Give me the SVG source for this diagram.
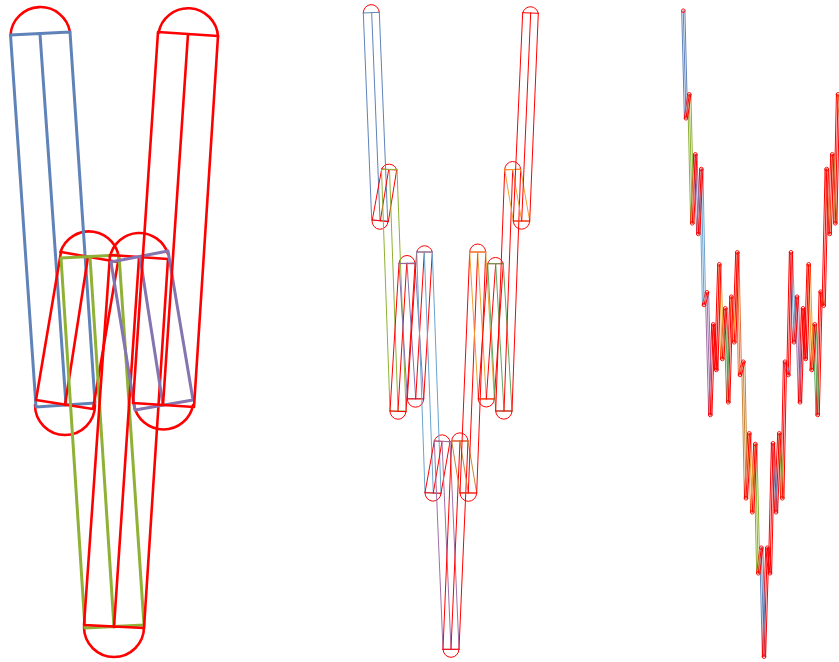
<svg xmlns="http://www.w3.org/2000/svg" xmlns:xlink="http://www.w3.org/1999/xlink" width="839" height="662" viewBox="0 0 839 662">
<style>
path,line{fill:none;stroke-linecap:round;stroke-linejoin:round}
.r{stroke:#ff0000}.b{stroke:#5f83b9}.g{stroke:#8fb136}.p{stroke:#8574b0}.l{stroke:#6aa3ce}.m{stroke:#a06fa8}.o{stroke:#f0a030}.n{stroke:#5ba85b}.t{stroke:#e8703a}.w{stroke:#c8863a}
#left path{stroke-width:3}
#left path.r{stroke-width:2.6}
#mid path{stroke-width:1}
#right line,#right path{stroke-width:1.3}
</style>
<defs>
<marker id="tip" markerUnits="userSpaceOnUse" markerWidth="8" markerHeight="8" refX="4" refY="4" viewBox="0 0 8 8"><circle cx="4" cy="4" r="1.8" fill="none" stroke="#ff0000" stroke-width="0.9"/></marker>
<g id="band">
<line class="b" x1="683.3" y1="10.7" x2="686" y2="118.3"/>
<line class="g" x1="689.3" y1="94.3" x2="692.3" y2="223.3"/>
<line class="p" x1="695.3" y1="154.3" x2="698.3" y2="234"/>
<line class="l" x1="701.3" y1="169" x2="704" y2="305"/>
<line class="m" x1="707" y1="292.3" x2="710.3" y2="415"/>
<line class="r" x1="713.3" y1="324.3" x2="716.3" y2="370"/>
<line class="o" x1="719.3" y1="264.3" x2="722.3" y2="359"/>
<line class="n" x1="725.3" y1="308.3" x2="728.3" y2="402.3"/>
<line class="o" x1="731.3" y1="296.7" x2="734.3" y2="342.3"/>
<line class="t" x1="737.3" y1="252.3" x2="740" y2="375"/>
<line class="w" x1="743.3" y1="361.7" x2="746" y2="498.3"/>
<line class="o" x1="749.3" y1="433.3" x2="752.3" y2="512.3"/>
<line class="g" x1="755.3" y1="444" x2="758.3" y2="573.3"/>
<line class="b" x1="761.3" y1="547.7" x2="764" y2="656.7"/>
<line class="r" x1="767.3" y1="547.7" x2="770" y2="573.3"/>
<line class="b" x1="773" y1="443.3" x2="776" y2="512.3"/>
<line class="g" x1="779.3" y1="433.3" x2="782.3" y2="498.3"/>
<line class="p" x1="785" y1="361.7" x2="788.3" y2="375"/>
<line class="l" x1="791" y1="252.3" x2="794" y2="342.3"/>
<line class="m" x1="797" y1="296.7" x2="800" y2="402.3"/>
<line class="r" x1="803" y1="308.3" x2="805.7" y2="359"/>
<line class="o" x1="808.7" y1="264.3" x2="811.7" y2="370"/>
<line class="n" x1="814.7" y1="324.3" x2="817.7" y2="415"/>
<line class="t" x1="820.7" y1="291.7" x2="823.7" y2="305.7"/>
<line class="t" x1="826.7" y1="169" x2="829.7" y2="234"/>
<line class="w" x1="832.3" y1="154.3" x2="835.3" y2="223.3"/>
<line class="o" x1="838" y1="94.3" x2="841" y2="118"/>
<path class="r" d="M686 118.3L689.3 94.3M692.3 223.3L695.3 154.3M698.3 234L701.3 169M704 305L707 292.3M710.3 415L713.3 324.3M716.3 370L719.3 264.3M722.3 359L725.3 308.3M728.3 402.3L731.3 296.7M734.3 342.3L737.3 252.3M740 375L743.3 361.7M746 498.3L749.3 433.3M752.3 512.3L755.3 444M758.3 573.3L761.3 547.7M764 656.7L767.3 547.7M770 573.3L773 443.3M776 512.3L779.3 433.3M782.3 498.3L785 361.7M788.3 375L791 252.3M794 342.3L797 296.7M800 402.3L803 308.3M805.7 359L808.7 264.3M811.7 370L814.7 324.3M817.7 415L820.7 291.7M823.7 305.7L826.7 169M829.7 234L832.3 154.3M835.3 223.3L838 94.3"/>
</g>
</defs>

<g id="left">
<path class="r" d="M10.5 35A30 30 0 0 1 70 32M158.5 33A30 30 0 0 1 218 36.500M60.500 252A30 30 0 0 1 119 261M110 257A30 30 0 0 1 168 254M35 405A30 30 0 0 0 95 405M134 405A30 30 0 0 0 193 405M84 627A30 30 0 0 0 144 627"/>
<path class="b" d="M10.5 35L70 32M10.5 35L36 407M40 34L66 405M70 32L95 403M36 407L95 403"/>
<path class="r" d="M61 252L118 262M61 252L36 400M88 257L65 405M118 262L93 409M36 400L93 409"/>
<path class="g" d="M61 258L119 255M61 258L85 628M90 257L114 627M119 255L144 625M85 628L144 625"/>
<path class="r" d="M110 255L168 259M84 625L110 255M114 627L139 258M144 628L168 259M84 625L144 628"/>
<path class="p" d="M111 262L168 251M111 262L135 410M140 257L163 405M168 251L193 400M135 410L193 400"/>
<path class="r" d="M158 32L218 36M158 32L133 403M188 34L163 405M218 36L194 407M133 403L194 407"/>
</g>

<g id="mid">
<path class="r" d="M363.3 13A8 8 0 0 1 379.3 12.3M381.7 169A8 8 0 0 1 396.7 170M399 263.5A8 8 0 0 1 415 263.5M416.7 252A8 8 0 0 1 432.3 252M434.3 441A8 8 0 0 1 450 441.7M451.7 441A8 8 0 0 1 468 441M469.7 252A8 8 0 0 1 485.7 252M487.7 263.7A8 8 0 0 1 503.3 263.7M504.7 169.7A8 8 0 0 1 520.7 169.3M522.7 12.7A8 8 0 0 1 538.3 13.3"/>
<path class="r" d="M372 221A8 8 0 0 0 388 221.5M390 411A8 8 0 0 0 406 411.5M407.3 399A8 8 0 0 0 423.7 399M425 493A8 8 0 0 0 441 493.3M443 649.3A8 8 0 0 0 459 649.3M460 493A8 8 0 0 0 476.7 493M478.3 399A8 8 0 0 0 494.3 399M495.7 411A8 8 0 0 0 512 411M513.3 221A8 8 0 0 0 529.7 221"/>
<path class="b" d="M363.3 13L379.3 12.3M363.3 13L371.7 220M371.7 13L380 220.5M379.3 12.3L387.7 221M371.7 220L387.7 221"/>
<path class="r" d="M381.7 169L396.7 170M381.7 169L372.3 220M388.7 169.3L380.3 221M396.7 170L388.3 221.7M372.3 220L388.3 221.7"/>
<path class="g" d="M381.5 169.5L397 169.5M381.5 169.5L390 410M389.5 169.5L398 410M397 169.5L406 410M390 411L406 411"/>
<path class="r" d="M399 263.5L415 263.7M399 263.5L390 411M406.7 263.5L398 411M415 263.7L406 411.7M390 411L406 411.7"/>
<path class="p" d="M399 263.5L415 263M399 263.5L407.3 398.5M407 263L415.7 398.5M415 263L423.7 398.5M407.3 398.5L423.7 398.5"/>
<path class="r" d="M416.7 252L432.3 252M416.7 252L407.3 399M424.3 252L415.7 399M432.3 252L423.7 399M407.3 399L423.7 399"/>
<path class="l" d="M416.7 252L432.3 252M416.7 252L425 492.7M424.3 252L433.3 493.3M432.3 252L441 493.3M425 492.7L441 493.3"/>
<path class="r" d="M434.3 441L450 441.7M434.3 441L425 492.7M442 441.5L433.3 493M450 441.7L441 493.3M425 492.7L441 493.3"/>
<path class="m" d="M434.3 441L450 441.7M434.3 441L443 649.3M442 441.5L451 649.3M450 441.7L459 649.3M443 649.3L459 649.3"/>
<path class="r" d="M451.7 441L468 441M451.7 441L443 649.3M460 441L451 649.3M468 441L459 649.3M443 649.3L459 649.3"/>
<path class="w" d="M451.7 441L468 441M451.7 441L460 492.7M460 441L468.3 493M468 441L476.7 493M460 492.7L476.7 493"/>
<path class="r" d="M469.7 252L485.7 252M469.7 252L460 493M477.7 252L468.3 493M485.7 252L476.7 493M460 493L476.7 493"/>
<path class="o" d="M469.7 252L485.7 252M469.7 252L478.3 398.7M477.7 252L486.3 398.7M485.7 252L494.3 398.7M478.3 398.7L494.3 398.7"/>
<path class="r" d="M487.7 263.7L503.3 263.7M487.7 263.7L478.3 399M495.7 263.7L486.3 399M503.3 263.7L494.3 399M478.3 399L494.3 399"/>
<path class="n" d="M487.7 263.7L503.3 263.7M487.7 263.7L495.7 411M495.7 263.7L504 411M503.3 263.7L512 411M495.7 411L512 411"/>
<path class="r" d="M504.7 169.7L520.7 169.3M504.7 169.7L495.7 411M512.7 169.7L504 411M520.7 169.3L512 411M495.7 411L512 411"/>
<path class="o" d="M504.7 169.7L520.7 169.3M504.7 169.7L513.3 221M512.7 169.7L521.7 221M520.7 169.3L529.7 221M513.3 221L529.7 221"/>
<path class="r" d="M522.7 12.7L538.3 13.3M522.7 12.7L513.3 221M530.7 12.7L521.7 221M538.3 13.3L529.7 221M513.3 221L529.7 221"/>
</g>

<g id="right">
<use xlink:href="#band" href="#band" transform="translate(-1.6 0)"/>
<use xlink:href="#band" href="#band"/>
<use xlink:href="#band" href="#band" transform="translate(1.6 0)"/>
<polyline fill="none" stroke="none" marker-start="url(#tip)" marker-mid="url(#tip)" marker-end="url(#tip)" points="683.3,10.7 686,118.3 689.3,94.3 692.3,223.3 695.3,154.3 698.3,234 701.3,169 704,305 707,292.3 710.3,415 713.3,324.3 716.3,370 719.3,264.3 722.3,359 725.3,308.3 728.3,402.3 731.3,296.7 734.3,342.3 737.3,252.3 740,375 743.3,361.7 746,498.3 749.3,433.3 752.3,512.3 755.3,444 758.3,573.3 761.3,547.7 764,656.7 767.3,547.7 770,573.3 773,443.3 776,512.3 779.3,433.3 782.3,498.3 785,361.7 788.3,375 791,252.3 794,342.3 797,296.7 800,402.3 803,308.3 805.7,359 808.7,264.3 811.7,370 814.7,324.3 817.7,415 820.7,291.7 823.7,305.7 826.7,169 829.7,234 832.3,154.3 835.3,223.3 838,94.3"/>
</g>
</svg>
